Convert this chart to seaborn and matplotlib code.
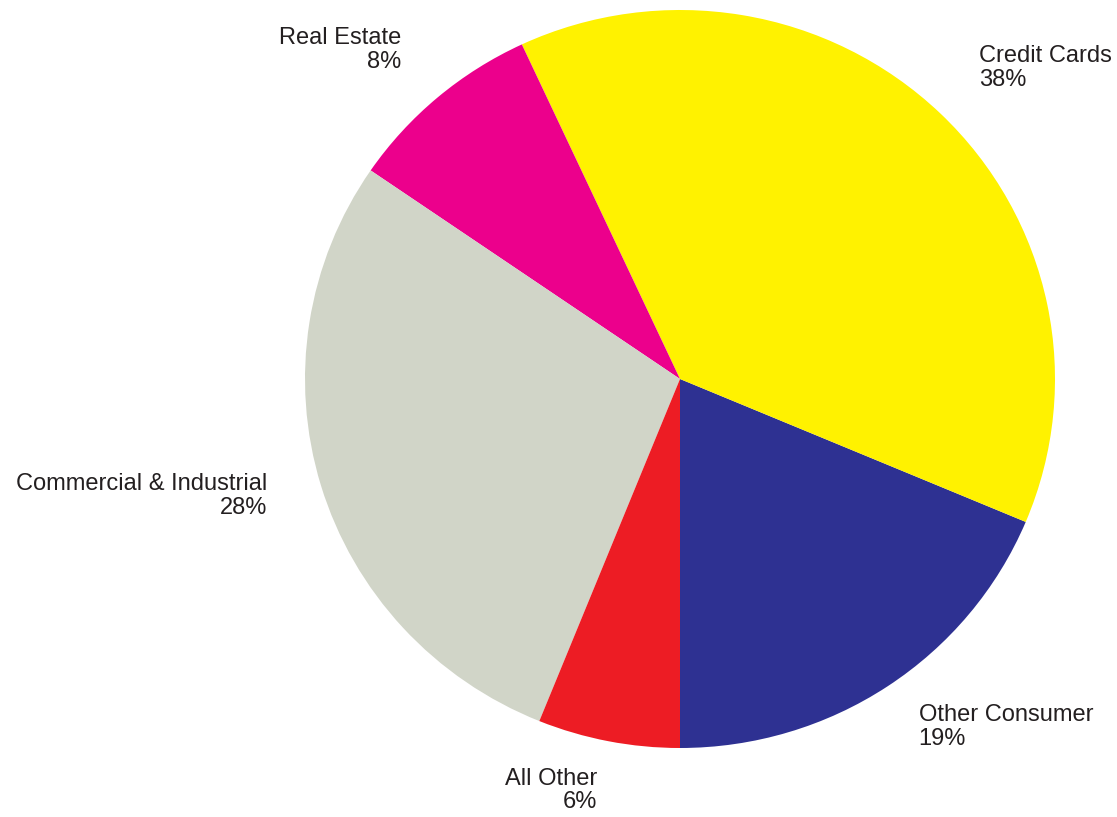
import matplotlib
matplotlib.use("Agg")
import matplotlib.pyplot as plt
import seaborn as sns

categories = ["Other Consumer", "Credit Cards", "Real Estate",
              "Commercial & Industrial", "All Other"]
shares = [18.67, 38.26, 8.51, 28.44, 6.12]
pct_labels = ["19%", "38%", "8%", "28%", "6%"]
colors = ["#2E3192", "#FFF200", "#EC008C", "#D1D5C8", "#ED1C24"]

sns.set_theme(style="white")
plt.rcParams['font.family'] = ['Liberation Sans', 'DejaVu Sans']

fig = plt.figure(figsize=(11.17, 8.17), dpi=100)
ax = fig.add_axes([0, 0, 1, 1])

labels = [f"{c}\n{p}" for c, p in zip(categories, pct_labels)]
wedges, texts = ax.pie(
    shares, labels=labels, colors=colors, startangle=-90, counterclock=True,
    labeldistance=1.15, wedgeprops=dict(linewidth=0),
    textprops=dict(fontsize=17, color="#231F20", linespacing=1.1),
)

# nudge labels up a little
for t in texts:
    x, y = t.get_position()
    t.set_position((x, y + 0.014))

# pie is slightly wider than tall in the reference
ax.set_aspect('auto')
ax.set_xlim(-680 / 375, (1117 - 680) / 375)
ax.set_ylim(-438 / 369, (817 - 438) / 369)
ax.axis('off')

fig.savefig("out.png", dpi=100, facecolor="white")
plt.close(fig)
